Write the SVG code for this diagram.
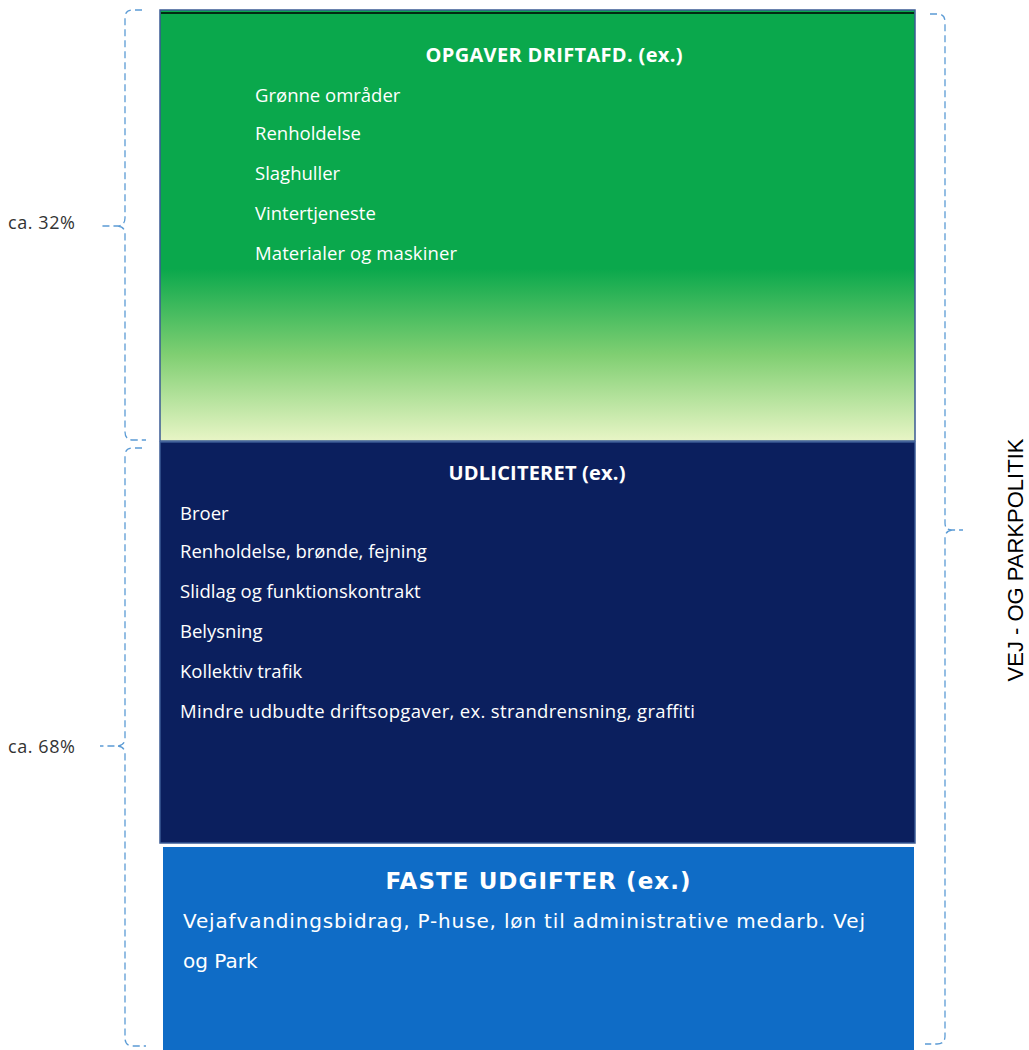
<svg xmlns="http://www.w3.org/2000/svg" width="1029" height="1050" viewBox="0 0 1029 1050">
<style>
.t{font-family:"Open Sans","Liberation Sans",sans-serif;fill:#ffffff;font-size:18.5px}
.h{font-family:"Open Sans","Liberation Sans",sans-serif;fill:#ffffff;font-size:20px;font-weight:bold;text-anchor:middle}
.br{fill:none;stroke:#5b9bd5;stroke-width:1.3;stroke-dasharray:7,4}
.lbl{font-family:"Open Sans","Liberation Sans",sans-serif;fill:#333;font-size:18px}
</style>
<defs>
<linearGradient id="g" x1="0" y1="0" x2="0" y2="1">
<stop offset="0" stop-color="#0aa84c"/>
<stop offset="0.6" stop-color="#0aa84c"/>
<stop offset="0.8" stop-color="#80cf72"/>
<stop offset="1" stop-color="#e8f5c6"/>
</linearGradient>
</defs>
<rect width="1029" height="1050" fill="#ffffff"/>
<g id="node-drift">
<rect x="160" y="10" width="755" height="431" fill="url(#g)" stroke="#3a5a94" stroke-width="1.5"/>
<line x1="161" y1="13" x2="914" y2="13" stroke="#000" stroke-width="1.5"/>
<text class="h" x="554" y="62" textLength="257">OPGAVER DRIFTAFD. (ex.)</text>
<text class="t" x="255" y="102">Grønne områder</text>
<text class="t" x="255" y="140">Renholdelse</text>
<text class="t" x="255" y="180">Slaghuller</text>
<text class="t" x="255" y="220">Vintertjeneste</text>
<text class="t" x="255" y="260" textLength="202">Materialer og maskiner</text>
</g>
<g id="node-udliciteret">
<rect x="160" y="442" width="755" height="401" fill="#0b1f5e" stroke="#3a5a94" stroke-width="1.5"/>
<text class="h" x="537" y="480" textLength="177">UDLICITERET (ex.)</text>
<text class="t" x="180" y="520">Broer</text>
<text class="t" x="180" y="558">Renholdelse, brønde, fejning</text>
<text class="t" x="180" y="598">Slidlag og funktionskontrakt</text>
<text class="t" x="180" y="638">Belysning</text>
<text class="t" x="180" y="678">Kollektiv trafik</text>
<text class="t" x="180" y="718" textLength="515">Mindre udbudte driftsopgaver, ex. strandrensning, graffiti</text>
</g>
<g id="node-faste">
<rect x="162" y="846" width="753" height="206" fill="#0f6cc6" stroke="#ffffff" stroke-width="2"/>
<text x="538" y="889" textLength="305" style="font-family:'DejaVu Sans',sans-serif;font-size:23px;font-weight:bold;fill:#fff;text-anchor:middle">FASTE UDGIFTER (ex.)</text>
<text x="183" y="928" style="font-family:'DejaVu Sans',sans-serif;font-size:20px;fill:#fff" textLength="682">Vejafvandingsbidrag, P-huse, løn til administrative medarb. Vej</text>
<text x="183" y="968" style="font-family:'DejaVu Sans',sans-serif;font-size:20px;fill:#fff">og Park</text>
</g>
<g id="connectors">
<path class="br" d="M142 10 H132 Q125 10 125 18 V218 Q125 225 118 226 H100 M118 226 Q125 227 125 234 V432 Q125 440 133 440 H146"/>
<path class="br" d="M142 448 H132 Q125 448 125 456 V738 Q125 745 118 746 H100 M118 746 Q125 747 125 754 V1038 Q125 1046 133 1046 H146"/>
<path class="br" d="M930 14 H938 Q945 14 945 22 V523 Q945 530 952 530 H963 M952 530 Q945 531 945 538 V1036 Q945 1044 937 1044 H925"/>
</g>
<g id="labels">
<text class="lbl" x="8" y="229" textLength="67">ca. 32%</text>
<text class="lbl" x="8" y="753" textLength="67">ca. 68%</text>
<text x="1023" y="560" transform="rotate(-90 1023 560)" style="font-family:'Liberation Sans',Arial,sans-serif;font-size:22px;fill:#000;text-anchor:middle">VEJ - OG PARKPOLITIK</text>
</g>
</svg>
